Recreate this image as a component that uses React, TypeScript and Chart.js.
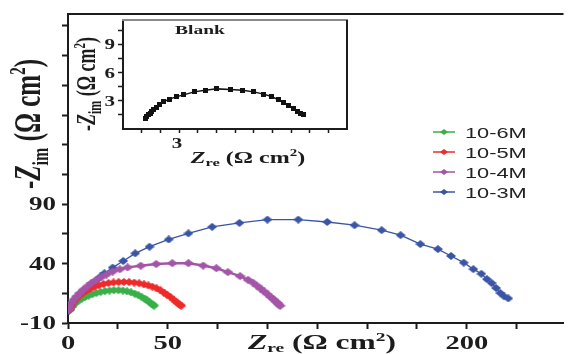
import React, { useEffect, useRef } from 'react';
import { Chart, registerables } from 'chart.js';

Chart.register(...registerables);

// ---------- data ----------
const seriesNames = ['10-6M', '10-5M', '10-4M', '10-3M'];
const seriesColors = ['#39b04a', '#ee2a2a', '#a356a8', '#3a55a6'];

const greenX = [0.8, 1.5, 2.5, 3.8, 5.2, 6.8, 8.5, 10.3, 12.2, 14.2, 16.3, 18.5, 20.8, 23.0, 25.3, 27.5, 29.6, 31.6, 33.5, 35.3, 36.9, 38.4, 39.7, 40.9, 41.9, 42.7, 43.2];
const greenY = [1.0, 3.0, 5.0, 7.0, 8.8, 10.3, 11.8, 13.0, 14.2, 15.2, 16.1, 16.8, 17.3, 17.6, 17.6, 17.3, 16.7, 15.8, 14.7, 13.4, 12.0, 10.5, 9.0, 7.5, 6.2, 5.2, 4.6];

const redX = [0.8, 1.6, 2.7, 4.0, 5.5, 7.2, 9.0, 11.0, 13.2, 15.5, 17.8, 20.3, 22.8, 25.4, 28.0, 30.6, 33.2, 35.7, 38.1, 40.3, 42.3, 44.4, 46.4, 48.1, 49.7, 51.4, 53.0, 54.3, 55.4, 56.2, 56.8];
const redY = [1.2, 4.2, 7.2, 10.0, 12.6, 15.0, 17.0, 18.8, 20.4, 21.7, 22.8, 23.6, 24.1, 24.4, 24.5, 24.4, 24.0, 23.4, 22.5, 21.6, 20.6, 19.2, 17.4, 15.6, 13.8, 11.8, 9.6, 7.8, 6.3, 5.3, 4.6];

const purpleX = [0.2, 0.8, 1.8, 3.0, 4.3, 5.9, 7.6, 9.6, 11.7, 14.0, 16.5, 19.3, 22.4, 26.0, 29.9, 36.5, 44.2, 52.3, 60.4, 67.8, 74.4, 80.2, 86.3, 90.3, 92.7, 94.8, 96.6, 98.3, 100.0, 101.6, 102.9, 104.1, 105.1, 105.8, 106.4];
const purpleY = [1.3, 3.8, 6.9, 9.8, 12.4, 15.2, 18.0, 20.8, 23.6, 26.0, 28.3, 30.8, 33.3, 35.2, 36.8, 38.2, 39.6, 40.3, 40.3, 38.3, 36.1, 32.8, 29.4, 26.3, 24.0, 21.3, 18.9, 16.6, 14.2, 11.9, 10.0, 8.2, 6.8, 5.5, 4.5];

const blueX = [0.5, 1.0, 1.8, 3.0, 4.3, 5.9, 7.6, 9.2, 10.9, 12.7, 14.5, 16.4, 18.3, 22.4, 27.7, 33.7, 40.9, 50.5, 60.4, 72.3, 86.0, 100.0, 115.5, 130.0, 143.7, 157.3, 166.8, 176.7, 185.5, 192.1, 198.5, 203.3, 207.3, 210.1, 212.5, 214.7, 216.8, 218.8, 220.8];
const blueY = [0.5, 1.8, 3.5, 6.5, 9.6, 12.5, 15.2, 17.8, 20.2, 23.3, 26.3, 29.2, 31.9, 36.6, 42.2, 48.6, 54.2, 60.3, 65.4, 70.9, 74.2, 77.0, 77.0, 75.0, 72.3, 68.1, 63.9, 56.4, 52.2, 46.4, 40.8, 35.3, 31.4, 26.9, 23.6, 19.4, 15.2, 12.4, 10.7];

const blankX = [1.18, 1.27, 1.35, 1.45, 1.54, 1.62, 1.77, 1.95, 2.16, 2.48, 2.84, 3.24, 3.81, 4.40, 5.03, 5.75, 6.41, 7.0, 7.54, 7.95, 8.34, 8.61, 8.88, 9.12, 9.33, 9.51, 9.65];
const blankY = [1.14, 1.35, 1.52, 1.67, 1.88, 2.05, 2.30, 2.58, 2.89, 3.18, 3.42, 3.63, 3.95, 4.13, 4.27, 4.20, 4.13, 3.95, 3.71, 3.46, 3.10, 2.83, 2.47, 2.20, 1.88, 1.67, 1.49];

const mainXTicks = [0, 25, 50, 75, 100, 125, 150, 175, 200, 225];
const mainXLabels = [0, 50, 200];
const mainYTicks = [-10, 15, 40, 65, 90, 115, 140, 165, 190, 215, 240];
const mainYLabels = [-10, 40, 90];
const insetXTicks = [1, 2, 3, 4, 5, 6, 7, 8, 9, 10, 11];
const insetXLabels = [3];
const insetYTicks = [1.5, 3, 4.5, 6, 7.5, 9, 10.5];
const insetYLabels = [3, 6, 9];

// ---------- styling helpers ----------
const SX = 1.5;
const SERIF = '"Liberation Serif", "Times New Roman", serif';
const SANS = '"Liberation Sans", Arial, sans-serif';
const INK = '#1c1c1c';

type Seg = { t: string; font: string; dy?: number };

function makeDiamond(color: string, w: number, h: number) {
  const c = document.createElement('canvas');
  c.width = w;
  c.height = h;
  const g = c.getContext('2d')!;
  g.fillStyle = color;
  g.beginPath();
  g.moveTo(w / 2, 0);
  g.lineTo(w, h / 2);
  g.lineTo(w / 2, h);
  g.lineTo(0, h / 2);
  g.closePath();
  g.fill();
  return c;
}

function makeSquare(color: string, w: number, h: number) {
  const c = document.createElement('canvas');
  c.width = w;
  c.height = h;
  const g = c.getContext('2d')!;
  g.fillStyle = color;
  g.fillRect(0, 0, w, h);
  return c;
}

function pts(xs: number[], ys: number[]) {
  return xs.map((x, i) => ({ x, y: ys[i] }));
}

function stretchText(ctx: CanvasRenderingContext2D, text: string, x: number, y: number, font: string, align: CanvasTextAlign, sx = SX) {
  ctx.save();
  ctx.translate(x, y);
  ctx.scale(sx, 1);
  ctx.font = font;
  ctx.textAlign = align;
  ctx.textBaseline = 'alphabetic';
  ctx.fillText(text, 0, 0);
  ctx.restore();
}

function richText(ctx: CanvasRenderingContext2D, segs: Seg[], x: number, y: number, rotate: boolean, sx = SX) {
  let w = 0;
  for (const s of segs) {
    ctx.font = s.font;
    w += ctx.measureText(s.t).width;
  }
  ctx.save();
  ctx.translate(x, y);
  if (rotate) {
    ctx.rotate(-Math.PI / 2);
    ctx.scale(1, sx);
  } else {
    ctx.scale(sx, 1);
  }
  ctx.textAlign = 'left';
  ctx.textBaseline = 'alphabetic';
  let cx = -w / 2;
  for (const s of segs) {
    ctx.font = s.font;
    ctx.fillText(s.t, cx, s.dy || 0);
    cx += ctx.measureText(s.t).width;
  }
  ctx.restore();
}

function axisTicks(values: number[]) {
  return (s: any) => {
    s.ticks = values.map((v) => ({ value: v }));
  };
}

export default function App() {
  const mainRef = useRef<HTMLCanvasElement>(null);
  const insetRef = useRef<HTMLCanvasElement>(null);

  useEffect(() => {
    const markers = [
      makeDiamond(seriesColors[0], 10, 8),
      makeDiamond(seriesColors[1], 10, 8),
      makeDiamond(seriesColors[2], 11, 8),
      makeDiamond(seriesColors[3], 10, 8),
    ];
    const legendMarkers = [
      makeDiamond(seriesColors[0], 8, 6),
      makeDiamond(seriesColors[1], 8, 6),
      makeDiamond(seriesColors[2], 8, 6),
      makeDiamond(seriesColors[3], 8, 6),
    ];
    const blankMarker = makeSquare('#111', 5, 5);

    const seriesData = [pts(greenX, greenY), pts(redX, redY), pts(purpleX, purpleY), pts(blueX, blueY)];
    // draw order: purple on top, then red, green, blue underneath
    const drawOrder = [2, 1, 0, 3];

    const mainDecor = {
      id: 'mainDecor',
      afterDraw(chart: any) {
        const { ctx, chartArea: a, scales } = chart;
        const xs = scales.x;
        const ys = scales.y;
        ctx.save();
        ctx.strokeStyle = INK;
        ctx.lineWidth = 2;
        ctx.beginPath();
        ctx.moveTo(a.left - 1, a.top);
        ctx.lineTo(a.right, a.top);
        ctx.stroke();

        ctx.fillStyle = INK;
        for (const v of mainYLabels) {
          stretchText(ctx, String(v), a.left - 12, ys.getPixelForValue(v) + 6, `bold 18px ${SERIF}`, 'right');
        }
        for (const v of mainXLabels) {
          stretchText(ctx, String(v), xs.getPixelForValue(v), 349, `bold 19px ${SERIF}`, 'center');
        }
        richText(ctx, [
          { t: 'Z', font: `bold italic 21px ${SERIF}` },
          { t: 're', font: `bold 13px ${SERIF}`, dy: 3 },
          { t: ' (\u03A9 cm', font: `bold 21px ${SERIF}` },
          { t: '2', font: `bold 13px ${SERIF}`, dy: -8 },
          { t: ')', font: `bold 21px ${SERIF}` },
        ], 322, 349, false);
        richText(ctx, [
          { t: '-', font: `bold 25px ${SERIF}` },
          { t: 'Z', font: `bold italic 25px ${SERIF}` },
          { t: 'im', font: `bold 16px ${SERIF}`, dy: 5 },
          { t: ' (\u03A9 cm', font: `bold 25px ${SERIF}` },
          { t: '2', font: `bold 15px ${SERIF}`, dy: -10 },
          { t: ')', font: `bold 25px ${SERIF}` },
        ], 40, 124, true);

        // legend
        seriesNames.forEach((name, i) => {
          const y = 132 + i * 20;
          ctx.strokeStyle = seriesColors[i];
          ctx.lineWidth = 1.5;
          ctx.beginPath();
          ctx.moveTo(433, y);
          ctx.lineTo(455, y);
          ctx.stroke();
          const m = legendMarkers[i];
          ctx.drawImage(m, 444 - m.width / 2, y - m.height / 2);
          ctx.fillStyle = '#222';
          stretchText(ctx, name, 465, y + 5.5, `15px ${SANS}`, 'left', 1.45);
        });
        ctx.restore();
      },
    };

    const mainChart = new Chart(mainRef.current!, {
      type: 'line',
      data: {
        datasets: drawOrder.map((i) => ({
          label: seriesNames[i],
          data: seriesData[i],
          borderColor: seriesColors[i],
          backgroundColor: seriesColors[i],
          borderWidth: i === 3 ? 1.3 : 2.5,
          pointStyle: markers[i] as any,
          pointRadius: 4,
          tension: 0,
          fill: false,
        })),
      },
      options: {
        responsive: false,
        animation: false,
        parsing: false as any,
        layout: { padding: { top: 14, right: 0, left: 0, bottom: 0 } },
        plugins: { legend: { display: false }, tooltip: { enabled: false } },
        scales: {
          x: {
            type: 'linear',
            min: 0,
            max: 248.5,
            afterBuildTicks: axisTicks(mainXTicks),
            afterFit: (s: any) => { s.height = 31; },
            ticks: { display: false },
            grid: { drawOnChartArea: false, drawTicks: true, tickLength: 6, tickColor: INK, tickWidth: 2 },
            border: { display: true, color: INK, width: 2 },
          },
          y: {
            type: 'linear',
            min: -10,
            max: 250,
            afterBuildTicks: axisTicks(mainYTicks),
            afterFit: (s: any) => { s.width = 68; },
            ticks: { display: false },
            grid: { drawOnChartArea: false, drawTicks: true, tickLength: 6, tickColor: INK, tickWidth: 2 },
            border: { display: true, color: INK, width: 2 },
          },
        },
      },
      plugins: [mainDecor],
    });

    const insetDecor = {
      id: 'insetDecor',
      afterDraw(chart: any) {
        const { ctx, chartArea: a, scales } = chart;
        const xs = scales.x;
        const ys = scales.y;
        ctx.save();
        ctx.lineWidth = 2;
        ctx.strokeStyle = '#8a8a8a';
        ctx.beginPath();
        ctx.moveTo(a.left - 1, a.top);
        ctx.lineTo(a.right + 1, a.top);
        ctx.stroke();
        ctx.strokeStyle = INK;
        ctx.beginPath();
        ctx.moveTo(a.right, a.top);
        ctx.lineTo(a.right, a.bottom + 1);
        ctx.stroke();

        ctx.fillStyle = INK;
        for (const v of insetYLabels) {
          stretchText(ctx, String(v), a.left - 8, ys.getPixelForValue(v) + 5, `bold 14px ${SERIF}`, 'right');
        }
        for (const v of insetXLabels) {
          stretchText(ctx, String(v), xs.getPixelForValue(v) - 2, 138, `bold 14px ${SERIF}`, 'center');
        }
        stretchText(ctx, 'Blank', 130, 24, `bold 13px ${SERIF}`, 'center');
        richText(ctx, [
          { t: 'Z', font: `bold italic 16px ${SERIF}` },
          { t: 're', font: `bold 11px ${SERIF}`, dy: 3 },
          { t: ' (\u03A9 cm', font: `bold 16px ${SERIF}` },
          { t: '2', font: `bold 10px ${SERIF}`, dy: -7 },
          { t: ')', font: `bold 16px ${SERIF}` },
        ], 178, 153, false);
        richText(ctx, [
          { t: '-', font: `bold 18px ${SERIF}` },
          { t: 'Z', font: `bold italic 18px ${SERIF}` },
          { t: 'im', font: `bold 12px ${SERIF}`, dy: 4 },
          { t: ' (\u03A9 cm', font: `bold 18px ${SERIF}` },
          { t: '2', font: `bold 11px ${SERIF}`, dy: -7 },
          { t: ')', font: `bold 18px ${SERIF}` },
        ], 25, 74, true);
        ctx.restore();
      },
    };

    const insetChart = new Chart(insetRef.current!, {
      type: 'line',
      data: {
        datasets: [
          {
            label: 'Blank',
            data: pts(blankX, blankY),
            borderColor: '#111',
            backgroundColor: '#111',
            borderWidth: 1.5,
            pointStyle: blankMarker as any,
            pointRadius: 3,
            tension: 0,
            fill: false,
          },
        ],
      },
      options: {
        responsive: false,
        animation: false,
        parsing: false as any,
        layout: { padding: { top: 10, right: 8, left: 0, bottom: 0 } },
        plugins: { legend: { display: false }, tooltip: { enabled: false } },
        scales: {
          x: {
            type: 'linear',
            min: 0,
            max: 12,
            afterBuildTicks: axisTicks(insetXTicks),
            afterFit: (s: any) => { s.height = 46; },
            ticks: { display: false },
            grid: { drawOnChartArea: false, drawTicks: true, tickLength: 4, tickColor: INK, tickWidth: 1.5 },
            border: { display: true, color: INK, width: 2 },
          },
          y: {
            type: 'linear',
            min: 0,
            max: 11.6,
            afterBuildTicks: axisTicks(insetYTicks),
            afterFit: (s: any) => { s.width = 53; },
            ticks: { display: false },
            grid: { drawOnChartArea: false, drawTicks: true, tickLength: 5, tickColor: INK, tickWidth: 1.5 },
            border: { display: true, color: INK, width: 2 },
          },
        },
      },
      plugins: [insetDecor],
    });

    return () => {
      mainChart.destroy();
      insetChart.destroy();
    };
  }, []);

  return (
    <div style={{ position: 'absolute', left: 0, top: 0, width: 570, height: 354, background: '#fff' }}>
      <canvas ref={mainRef} width={570} height={354} style={{ position: 'absolute', left: 0, top: 0 }} />
      <canvas ref={insetRef} width={285} height={165} style={{ position: 'absolute', left: 70, top: 10 }} />
    </div>
  );
}
